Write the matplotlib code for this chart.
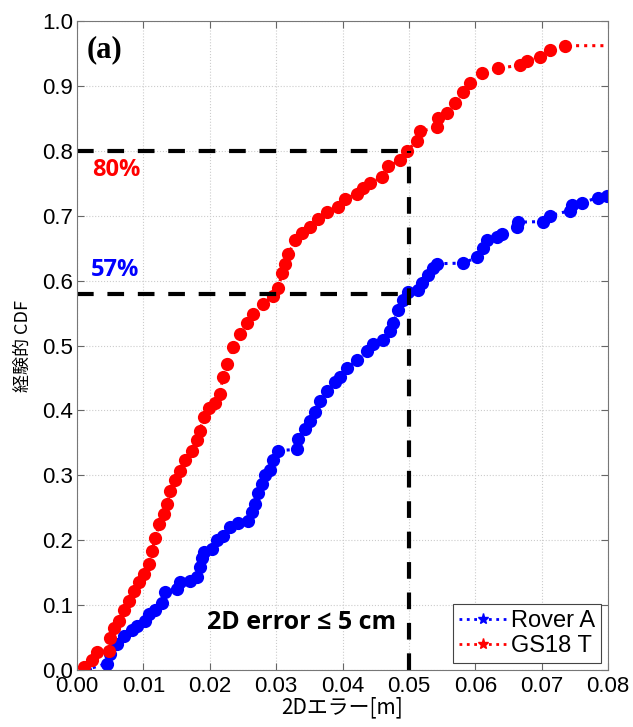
import matplotlib.pyplot as plt
from matplotlib.lines import Line2D

rover_x = [0.0012, 0.0045, 0.0050, 0.0060, 0.0071, 0.0083, 0.0090, 0.0102, 0.0109, 0.0118,
           0.0128, 0.0133, 0.0151, 0.0155, 0.0170, 0.0181, 0.0185, 0.0188, 0.0191, 0.0203,
           0.0211, 0.0220, 0.0231, 0.0243, 0.0258, 0.0264, 0.0268, 0.0273, 0.0279, 0.0283,
           0.0291, 0.0295, 0.0303, 0.0332, 0.0333, 0.0344, 0.0351, 0.0359, 0.0366, 0.0377,
           0.0389, 0.0396, 0.0407, 0.0422, 0.0437, 0.0446, 0.0461, 0.0472, 0.0476, 0.0484,
           0.0491, 0.0499, 0.0514, 0.0520, 0.0529, 0.0537, 0.0543, 0.0582, 0.0603, 0.0612,
           0.0618, 0.0633, 0.0640, 0.0663, 0.0665, 0.0702, 0.0713, 0.0743, 0.0746, 0.0761,
           0.0785, 0.0799]
rover_y = [0.000, 0.010, 0.025, 0.040, 0.053, 0.061, 0.068, 0.076, 0.087, 0.092,
           0.104, 0.120, 0.125, 0.135, 0.137, 0.143, 0.158, 0.172, 0.182, 0.187,
           0.200, 0.207, 0.220, 0.226, 0.230, 0.243, 0.256, 0.272, 0.287, 0.300,
           0.308, 0.323, 0.338, 0.340, 0.356, 0.372, 0.384, 0.397, 0.415, 0.430,
           0.443, 0.452, 0.466, 0.477, 0.492, 0.503, 0.508, 0.523, 0.535, 0.554,
           0.570, 0.583, 0.586, 0.597, 0.608, 0.620, 0.626, 0.627, 0.636, 0.651,
           0.662, 0.667, 0.672, 0.682, 0.690, 0.691, 0.700, 0.708, 0.716, 0.720,
           0.728, 0.731]

# GS18 T empirical CDF
gs_x = [0.0011, 0.0023, 0.0030, 0.0048, 0.0050, 0.0056, 0.0063, 0.0071, 0.0078, 0.0086,
        0.0093, 0.0101, 0.0109, 0.0113, 0.0118, 0.0124, 0.0131, 0.0136, 0.0140, 0.0148,
        0.0155, 0.0163, 0.0173, 0.0181, 0.0185, 0.0191, 0.0199, 0.0208, 0.0215, 0.0220,
        0.0226, 0.0235, 0.0246, 0.0256, 0.0265, 0.0280, 0.0295, 0.0303, 0.0309, 0.0313,
        0.0318, 0.0329, 0.0339, 0.0351, 0.0363, 0.0377, 0.0393, 0.0404, 0.0422, 0.0431,
        0.0442, 0.0460, 0.0469, 0.0487, 0.0497, 0.0512, 0.0517, 0.0543, 0.0544, 0.0558,
        0.0570, 0.0582, 0.0592, 0.0610, 0.0634, 0.0668, 0.0678, 0.0698, 0.0713, 0.0735]
gs_y = [0.004, 0.015, 0.027, 0.030, 0.050, 0.064, 0.076, 0.092, 0.107, 0.122,
        0.135, 0.148, 0.164, 0.184, 0.204, 0.225, 0.241, 0.256, 0.276, 0.292,
        0.307, 0.323, 0.338, 0.354, 0.369, 0.390, 0.403, 0.412, 0.426, 0.451,
        0.472, 0.497, 0.518, 0.534, 0.549, 0.564, 0.577, 0.589, 0.611, 0.626,
        0.641, 0.662, 0.674, 0.682, 0.695, 0.705, 0.713, 0.726, 0.734, 0.743,
        0.750, 0.760, 0.776, 0.786, 0.800, 0.815, 0.830, 0.836, 0.851, 0.859,
        0.873, 0.890, 0.905, 0.920, 0.927, 0.932, 0.939, 0.944, 0.955, 0.962]

threshold = 0.05
p_gs = 0.80
p_rover = 0.58

fig = plt.figure(figsize=(6.33, 7.27), dpi=100)
ax = fig.add_axes([0.1217, 0.0784, 0.8388, 0.8927])

# CDF curves, flat tail to the right edge
ax.plot(rover_x, rover_y, color='blue', linestyle=':', linewidth=2.2,
        marker='o', markersize=9.5, markeredgewidth=0)
ax.plot(gs_x + [0.08], gs_y + [gs_y[-1]], color='red', linestyle=':', linewidth=2.2,
        marker='o', markersize=9.5, markeredgewidth=0, markevery=list(range(len(gs_x))))

# threshold guide lines
dash = dict(color='black', linewidth=3, linestyle=(0, (4, 3.3)))
ax.plot([0, threshold], [p_gs, p_gs], **dash)
ax.plot([0, threshold], [p_rover, p_rover], **dash)
ax.plot([threshold, threshold], [0, p_gs], **dash)

ax.set_xlim(0, 0.08)
ax.set_ylim(0, 1.0)
ax.set_xticks([i * 0.01 for i in range(9)])
ax.set_yticks([i * 0.1 for i in range(11)])
ax.set_xticklabels([f'{i * 0.01:.2f}' for i in range(9)])
ax.set_yticklabels([f'{i * 0.1:.1f}' for i in range(11)])
ax.tick_params(direction='in', top=True, right=True, length=5, width=0.8,
               labelsize=16, color='#666666', pad=3)
ax.tick_params(axis='x', pad=4)
for lab in ax.get_xticklabels() + ax.get_yticklabels():
    lab.set_family(['Liberation Sans', 'DejaVu Sans'])
for s in ax.spines.values():
    s.set_color('#777777')
ax.grid(True, linestyle=':', color='#cccccc', linewidth=0.8)

ax.set_xlabel('2Dエラー[m]', fontsize=15, family=['Noto Sans CJK JP', 'DejaVu Sans'], labelpad=0)
ax.set_ylabel('経験的 CDF', fontsize=13, family=['Noto Sans CJK JP', 'DejaVu Sans'], labelpad=7)

ax.text(0.0015, 0.955, '(a)', fontsize=22, fontweight='bold',
        family=['Liberation Serif', 'DejaVu Serif'], va='center', ha='left')
ax.text(0.0022, 0.771, '80%', color='red', fontsize=17, fontweight='bold',
        family=['Open Sans', 'DejaVu Sans'], va='center', ha='left')
ax.text(0.0021, 0.617, '57%', color='blue', fontsize=17, fontweight='bold',
        family=['Open Sans', 'DejaVu Sans'], va='center', ha='left')
ax.text(0.0339, 0.073, '2D error ≤ 5 cm', color='black', fontsize=18, fontweight='bold',
        family=['Open Sans', 'DejaVu Sans'], va='center', ha='center')

handles = [Line2D([], [], color='blue', linestyle=':', linewidth=2, marker='*', markersize=8),
           Line2D([], [], color='red', linestyle=':', linewidth=2, marker='*', markersize=8)]
leg = ax.legend(handles, ['Rover A', 'GS18 T'], loc='lower right',
                prop={'family': ['Liberation Sans', 'DejaVu Sans'], 'size': 17},
                fancybox=False, framealpha=1, edgecolor='#444444',
                borderpad=0.25, handlelength=2.0, handletextpad=0.2, labelspacing=0.12,
                borderaxespad=0.3)
leg.get_frame().set_linewidth(0.8)

fig.savefig('out.png', dpi=100)
